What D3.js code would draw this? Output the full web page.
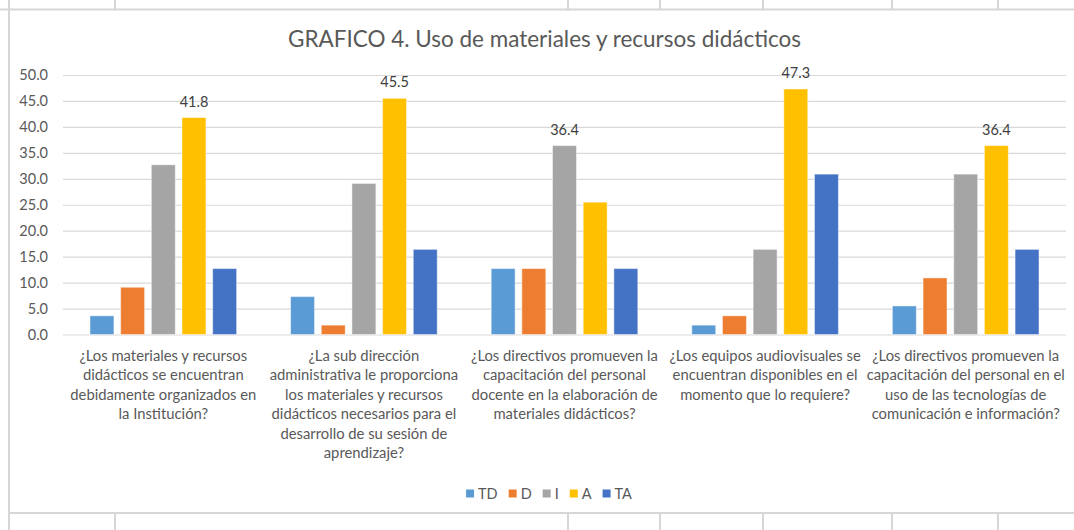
<!DOCTYPE html>
<html>
<head>
<meta charset="utf-8">
<script src="https://cdn.jsdelivr.net/npm/d3@7"></script>
<style>
  html, body { margin: 0; padding: 0; background: #fff; }
  svg { display: block; }
  text { font-family: Lato, "Noto Sans", sans-serif; fill: #595959; }
</style>
</head>
<body>
<div id="chart"></div>
<script>
// data (percent of answers)
var series = ['TD', 'D', 'I', 'A', 'TA'];
var categories = [
  ['¿Los materiales y recursos', 'didácticos se encuentran', 'debidamente organizados en', 'la Institución?'],
  ['¿La sub dirección', 'administrativa le proporciona', 'los materiales y recursos', 'didácticos necesarios para el', 'desarrollo de su sesión de', 'aprendizaje?'],
  ['¿Los directivos promueven la', 'capacitación del personal', 'docente en la elaboración de', 'materiales didácticos?'],
  ['¿Los equipos audiovisuales se', 'encuentran disponibles en el', 'momento que lo requiere?'],
  ['¿Los directivos promueven la', 'capacitación del personal en el', 'uso de las tecnologías de', 'comunicación e información?']
];
var valuesTD = [3.6, 7.3, 12.7, 1.8, 5.5];
var valuesD  = [9.1, 1.8, 12.7, 3.6, 10.9];
var valuesI  = [32.7, 29.1, 36.4, 16.4, 30.9];
var valuesA  = [41.8, 45.5, 25.5, 47.3, 36.4];
var valuesTA = [12.7, 16.4, 12.7, 30.9, 16.4];
var yTicks = [0, 5, 10, 15, 20, 25, 30, 35, 40, 45, 50];
var colors = ['#5B9BD5', '#ED7D31', '#A5A5A5', '#FFC000', '#4472C4'];
var title = 'GRAFICO 4. Uso de materiales y recursos didácticos';

var W = 1074, H = 530,
    plot = {left: 63, right: 1066, top: 75, bottom: 334.5};

var svg = d3.select('#chart').append('svg')
  .attr('width', W)
  .attr('height', H);

// spreadsheet cell lines behind the chart
var gridColor = '#D6D6D6';
var cells = svg.append('g').attr('stroke', gridColor).attr('stroke-width', 2);
cells.append('line').attr('x1', 0).attr('x2', W).attr('y1', 9.5).attr('y2', 9.5);
cells.append('line').attr('x1', 9).attr('x2', W).attr('y1', 513).attr('y2', 513);
cells.append('line').attr('x1', 9).attr('x2', 9).attr('y1', 0).attr('y2', H);
[115, 568, 660, 763, 892, 998].forEach(function (cx) {
  cells.append('line').attr('x1', cx).attr('x2', cx).attr('y1', 0).attr('y2', 9.5);
  cells.append('line').attr('x1', cx).attr('x2', cx).attr('y1', 513).attr('y2', H);
});

// title
svg.append('text')
  .attr('x', 544.5)
  .attr('y', 47)
  .attr('text-anchor', 'middle')
  .attr('font-size', 23)
  .attr('textLength', 513)
  .attr('lengthAdjust', 'spacingAndGlyphs')
  .text(title);

var table = categories.map(function (c, i) {
  return {
    idx: i,
    lines: c,
    vals: [valuesTD[i], valuesD[i], valuesI[i], valuesA[i], valuesTA[i]]
  };
});

var x0 = d3.scaleBand()
  .domain(d3.range(categories.length))
  .range([plot.left, plot.right]);

var x1 = d3.scaleBand()
  .domain(series)
  .range([0, x0.bandwidth()])
  .paddingInner(0.22)
  .paddingOuter(0.88);

var y = d3.scaleLinear()
  .domain([0, 50])
  .range([plot.bottom, plot.top]);

// y axis with gridlines
var yAxis = svg.append('g')
  .attr('transform', 'translate(' + plot.left + ',0)')
  .call(d3.axisLeft(y)
    .tickValues(yTicks)
    .tickFormat(d3.format('.1f'))
    .tickSize(-(plot.right - plot.left))
    .tickPadding(15));
yAxis.select('.domain').remove();
yAxis.selectAll('line').attr('stroke', '#D9D9D9').attr('stroke-width', 1.2);
yAxis.selectAll('text')
  .attr('font-size', 14.5)
  .attr('font-family', 'Lato, "Noto Sans", sans-serif')
  .style('fill', '#595959');

// bars
var groups = svg.selectAll('.grp')
  .data(table)
  .enter().append('g')
    .attr('class', 'grp')
    .attr('transform', function (d) { return 'translate(' + x0(d.idx) + ',0)'; });

groups.selectAll('rect')
  .data(function (d) { return d.vals.map(function (v, k) { return {s: series[k], k: k, v: v}; }); })
  .enter().append('rect')
    .attr('x', function (d) { return x1(d.s); })
    .attr('width', x1.bandwidth())
    .attr('y', function (d) { return y(d.v); })
    .attr('height', function (d) { return y(0) - y(d.v); })
    .style('fill', function (d) { return colors[d.k]; })
    .style('stroke', '#fff')
    .style('stroke-opacity', 0.45)
    .style('stroke-width', 1);

// data label on the highest bar of each group
groups.each(function (d) {
  var k = d.vals.indexOf(d3.max(d.vals));
  d3.select(this).append('text')
    .attr('x', x1(series[k]) + x1.bandwidth() / 2)
    .attr('y', y(d.vals[k]) - 11)
    .attr('text-anchor', 'middle')
    .attr('font-size', 14.5)
    .style('fill', '#404040')
    .text(d3.format('.1f')(d.vals[k]));
});

// category labels
groups.append('text')
  .attr('text-anchor', 'middle')
  .attr('font-size', 14.8)
  .attr('transform', 'translate(' + x0.bandwidth() / 2 + ',361)')
  .selectAll('tspan')
  .data(function (d) { return d.lines; })
  .enter().append('tspan')
    .attr('x', 0)
    .attr('dy', function (d, i) { return i === 0 ? 0 : 19.4; })
    .text(function (d) { return d; });

// legend
var legend = svg.append('g').attr('transform', 'translate(0,493.5)');
var lx = 0;
var items = legend.selectAll('g')
  .data(series)
  .enter().append('g');
items.append('rect')
  .attr('y', -4)
  .attr('width', 8)
  .attr('height', 8)
  .style('fill', function (d, i) { return colors[i]; });
items.append('text')
  .attr('x', 12)
  .attr('dy', '0.35em')
  .attr('font-size', 14.5)
  .text(function (d) { return d; });
items.each(function () {
  var g = d3.select(this);
  g.attr('transform', 'translate(' + lx + ',0)');
  lx += 12 + g.select('text').node().getComputedTextLength() + 11;
});
legend.attr('transform', 'translate(' + (549 - (lx - 11) / 2) + ',493.5)');
</script>
</body>
</html>
